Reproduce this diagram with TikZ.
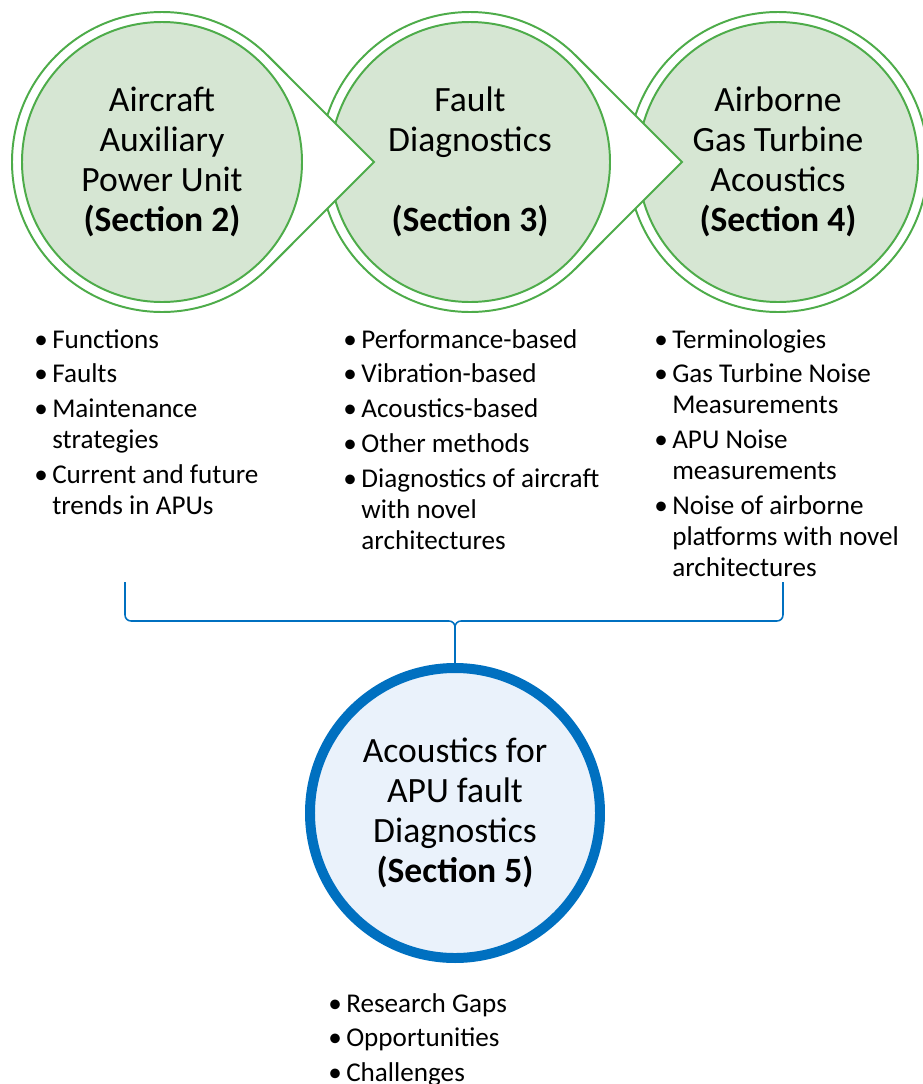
\documentclass[tikz,border=0pt]{standalone}
\usepackage{fontspec}
\setmainfont{Carlito}
\usetikzlibrary{calc}
\definecolor{ringgreen}{RGB}{78,172,74}
\definecolor{discgreen}{RGB}{214,230,211}
\definecolor{rimblue}{RGB}{0,112,192}
\definecolor{discblue}{RGB}{234,242,251}
\newcommand{\discsize}{7cm}
\newcommand{\bul}{\makebox[0.45cm][l]{\textbullet}}
\newcommand{\ind}{\hspace*{0.45cm}}
\newcommand{\nextpt}{\\[0.1cm]}

\tikzset{
    topic/.style={circle,draw=ringgreen,line width=1.4pt,fill=discgreen,
        minimum size=\discsize,inner sep=0pt,align=center,
        font=\fontsize{25.3}{28.45}\selectfont},
    goal/.style={circle,draw=rimblue,line width=7.1pt,fill=discblue,
        minimum size=7.25cm,inner sep=0pt,align=center,
        font=\fontsize{25.3}{28.45}\selectfont},
    ring/.style={draw=ringgreen,line width=1.4pt,fill=white},
    points/.style={anchor=base west,inner sep=0pt,
        font=\fontsize{19.3}{22}\selectfont},
    brace/.style={draw=rimblue,line width=1.1pt,rounded corners=0.15cm}
}

\begin{document}
\begin{tikzpicture}
    \useasboundingbox (0,0) rectangle (23.05,-27.1);

    \coordinate (c1) at (4.05,-4.05);
    \coordinate (c2) at (11.75,-4.05);
    \coordinate (c3) at (19.45,-4.05);

    % section circles, right to left so each point lies on top
    \draw[ring] (c3) circle[radius=3.75];
    \node[topic] (air) at (c3) {Airborne\\Gas Turbine\\Acoustics\\\textbf{(Section 4)}};

    \draw[ring] ($(c2)+(45:3.75)$) -- ($(c2)+(5.3,0)$) -- ($(c2)+(-45:3.75)$)
        arc[start angle=-45,end angle=-315,radius=3.75] -- cycle;
    \node[topic] (fault) at (c2) {Fault\\Diagnostics\\\mbox{}\\\textbf{(Section 3)}};

    \draw[ring] ($(c1)+(45:3.75)$) -- ($(c1)+(5.3,0)$) -- ($(c1)+(-45:3.75)$)
        arc[start angle=-45,end angle=-315,radius=3.75] -- cycle;
    \node[topic] (apu) at (c1) {Aircraft\\Auxiliary\\Power Unit\\\textbf{(Section 2)}};

    % bullet lists
    \node[points] (apulist) at (0.85,-8.7) {\parbox[t]{6.5cm}{\raggedright
        \bul Functions\nextpt
        \bul Faults\nextpt
        \bul Maintenance\\\ind strategies\nextpt
        \bul Current and future\\\ind trends in APUs}};
    \node[points] (faultlist) at (8.58,-8.7) {\parbox[t]{6.5cm}{\raggedright
        \bul Performance-based\nextpt
        \bul Vibration-based\nextpt
        \bul Acoustics-based\nextpt
        \bul Other methods\nextpt
        \bul Diagnostics of aircraft\\\ind with novel\\\ind architectures}};
    \node[points] (airlist) at (16.35,-8.7) {\parbox[t]{6.5cm}{\raggedright
        \bul Terminologies\nextpt
        \bul Gas Turbine Noise\\\ind Measurements\nextpt
        \bul APU Noise\\\ind measurements\nextpt
        \bul Noise of airborne\\\ind platforms with novel\\\ind architectures}};

    % target circle
    \node[goal] (acou) at (11.375,-20.325) {Acoustics for\\APU fault\\Diagnostics\\\textbf{(Section 5)}};
    \node[points] (acoulist) at (8.2,-25.3) {\parbox[t]{6.5cm}{\raggedright
        \bul Research Gaps\nextpt
        \bul Opportunities\nextpt
        \bul Challenges}};

    % brace
    \coordinate (bl) at (3.125,-14.55);
    \coordinate (br) at (19.575,-14.55);
    \coordinate (knot) at (11.375,-15.525);
    \draw[brace] (bl) |- (knot) -- (acou.north);
    \draw[brace] (br) |- (knot) -- (acou.north);
\end{tikzpicture}
\end{document}
